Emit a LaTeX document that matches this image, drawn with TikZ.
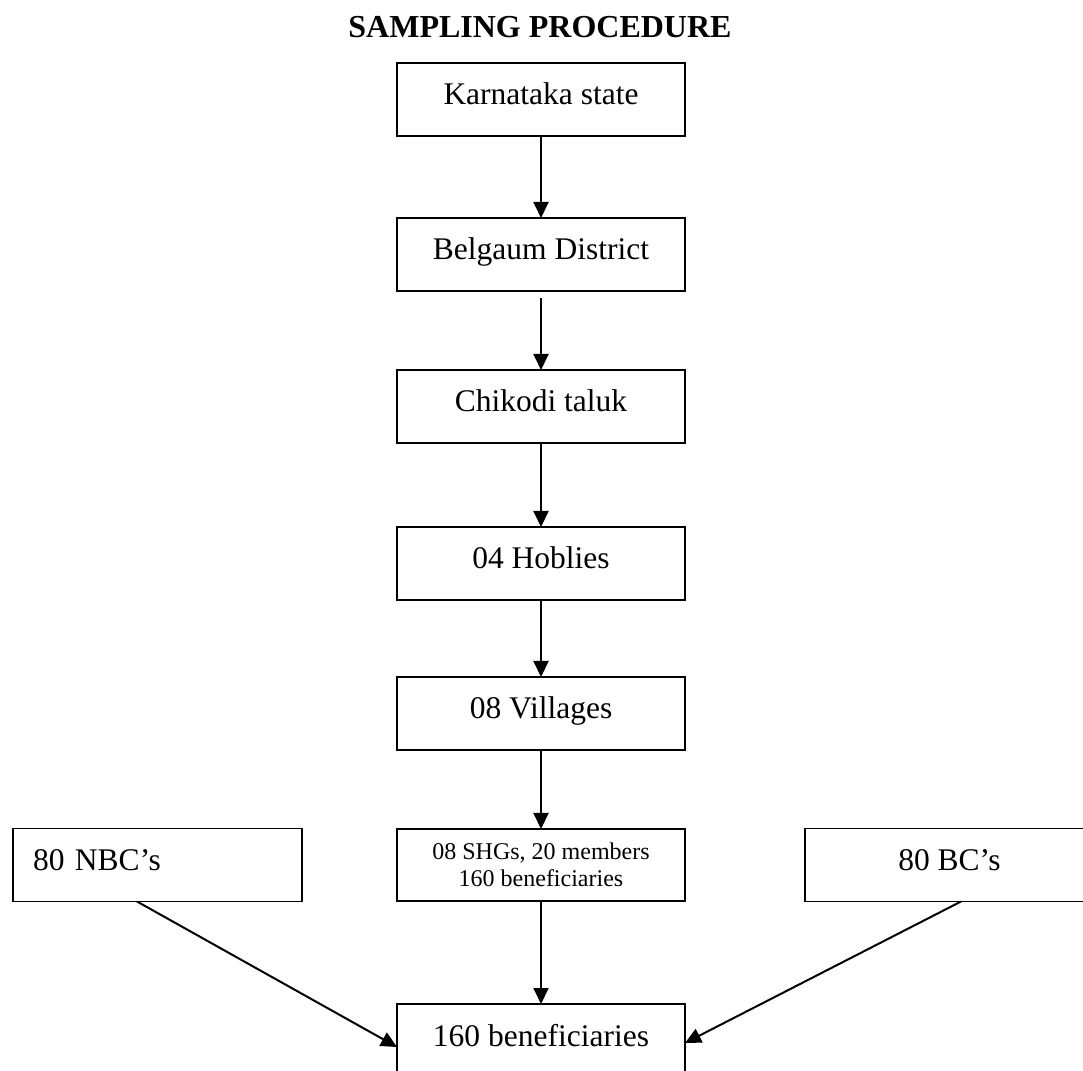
\documentclass[tikz,border=0pt]{standalone}
\usepackage{fontspec}
\setmainfont{Liberation Serif}
\usetikzlibrary{arrows.meta, positioning, calc}
\tikzset{
  box/.style={rectangle, draw=black, line width=1.8pt, inner sep=0pt, outer sep=0pt,
              minimum width=288pt},
  level/.style={box, text height=42pt, text depth=31pt, font=\fontsize{31.5}{36}\selectfont},
  group/.style={box, minimum height=72pt, align=center, font=\fontsize{24}{27}\selectfont},
  arrow/.style={-{Triangle[length=16pt, width=15pt]}, line width=2pt},
  heading/.style={anchor=base, font=\bfseries\fontsize{32}{38}\selectfont},
}
\begin{document}
\begin{tikzpicture}[x=1pt, y=1pt]
  \useasboundingbox (0,0) rectangle (1083,1070);
  \clip (0,0) rectangle (1083,1070);

  \node[heading] (title) at (540,1032) {SAMPLING PROCEDURE};

  \node[level] (state) at (541,970.5) {Karnataka state};
  \node[level, below=82pt of state]    (district) {Belgaum District};
  \node[level, below=79pt of district] (taluk)    {Chikodi taluk};
  \node[level, below=84pt of taluk]    (hobli)    {04 Hoblies};
  \node[level, below=77pt of hobli]    (village)  {08 Villages};
  \node[group, below=79pt of village]  (shg)      {08 SHGs, 20 members\\160 beneficiaries};
  \node[level, minimum width=289pt, text width=249pt, inner xsep=20pt, align=left,
        left=95pt of shg]               (nbc)      {80 NBC’s};
  \node[level, minimum width=289pt, right=120pt of shg] (bc) {80 BC’s};
  \node[level, below=103pt of shg]     (benef)    {160 beneficiaries};

  \draw[arrow] (state) -- (district);
  \draw[arrow, shorten <=7pt] (district) -- (taluk);
  \draw[arrow] (taluk) -- (hobli);
  \draw[arrow] (hobli) -- (village);
  \draw[arrow] (village) -- (shg);
  \draw[arrow] (shg) -- (benef);
  \draw[arrow] ($(nbc.south)+(-20.5,0)$) -- ($(benef.west)+(0,-6.5)$);
  \draw[arrow] ($(bc.south)+(11.5,0)$) -- ($(benef.east)+(0,-2.5)$);
\end{tikzpicture}
\end{document}
